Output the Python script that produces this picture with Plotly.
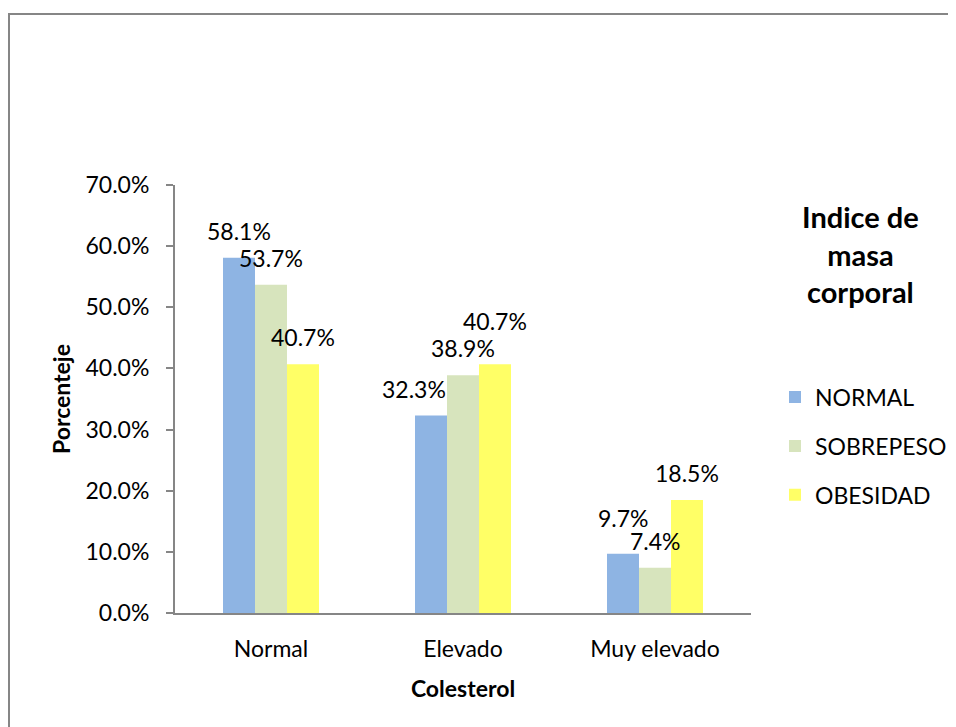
import plotly.graph_objects as go

# ---- data ----
categories = ["Normal", "Elevado", "Muy elevado"]
series_names = ["NORMAL", "SOBREPESO", "OBESIDAD"]
normal_vals = [58.1, 32.3, 9.7]
sobrepeso_vals = [53.7, 38.9, 7.4]
obesidad_vals = [40.7, 40.7, 18.5]
y_ticks = [0, 10, 20, 30, 40, 50, 60, 70]
y_tick_labels = [f"{t:.1f}%" for t in y_ticks]

series_values = [normal_vals, sobrepeso_vals, obesidad_vals]
colors = ["#8EB4E3", "#D7E4BD", "#FFFF66"]

FONT = "Lato, Carlito, Calibri, sans-serif"
GRAY = "#868686"

# figure is drawn inside the page body (8px default margin)
W, H = 948, 719
ML, MT = 167, 177
PW, PH = 576, 428

fig = go.Figure()
for k, (name, vals) in enumerate(zip(series_names, series_values)):
    fig.add_trace(go.Bar(
        x=categories, y=vals, name=name,
        marker=dict(color=colors[k], line=dict(width=0)),
        legendgroup=name,
    ))

# data labels (manual nudges replicate the original label placement)
nudge = {(1, 0): (-17, 0), (1, 2): (0, 16), (2, 0): (0, 9)}
annotations = []
nser = len(series_names)
bar_w = 0.5 / nser
for k, vals in enumerate(series_values):
    for i, v in enumerate(vals):
        dx, dy = nudge.get((i, k), (0, 0))
        annotations.append(dict(
            x=i + (k - (nser - 1) / 2) * bar_w, y=v, xref="x", yref="y",
            text=f"{v:.1f}%", showarrow=False,
            yanchor="middle", xanchor="center",
            yshift=27 + dy, xshift=dx,
            font=dict(family=FONT, size=23, color="black"),
        ))

# legend title
annotations.append(dict(
    x=1.19, y=0.972, xref="paper", yref="paper",
    text="<b>Indice de<br>masa<br>corporal</b>", showarrow=False,
    xanchor="center", yanchor="top", align="center",
    font=dict(family=FONT, size=29, color="black"),
))

fig.update_layout(
    width=W, height=H, autosize=False,
    margin=dict(l=ML, r=W - ML - PW, t=MT, b=H - MT - PH, autoexpand=False),
    paper_bgcolor="white", plot_bgcolor="white",
    barmode="group", bargap=0.5, bargroupgap=0,
    font=dict(family=FONT, size=23, color="black"),
    showlegend=True,
    legend=dict(
        xref="container", yref="container",
        x=767 / W, xanchor="left", y=1 - 367.6 / H, yanchor="top",
        font=dict(family=FONT, size=23, color="black"),
        tracegroupgap=16, traceorder="grouped",
        bgcolor="rgba(0,0,0,0)",
    ),
    annotations=annotations,
    shapes=[dict(
        type="rect", xref="paper", yref="paper",
        x0=(1 - ML) / PW, x1=(990 - ML) / PW,
        y0=(MT + PH - 760) / PH, y1=(MT + PH - 6) / PH,
        line=dict(color=GRAY, width=2), fillcolor="rgba(0,0,0,0)",
        layer="below",
    )],
)

fig.update_xaxes(
    type="category", categoryorder="array", categoryarray=categories,
    range=[-0.5, 2.5], showline=True, linecolor=GRAY, linewidth=2,
    ticks="", showgrid=False, zeroline=False,
    ticklabelstandoff=14,
    tickfont=dict(family=FONT, size=23, color="black"),
    title=dict(text="<b>Colesterol</b>", standoff=20,
               font=dict(family=FONT, size=23, color="black")),
)
fig.update_yaxes(
    range=[0, 70], tickvals=y_ticks, ticktext=y_tick_labels,
    showline=True, linecolor=GRAY, linewidth=2,
    ticks="outside", ticklen=7, tickcolor=GRAY, tickwidth=2,
    showgrid=False, zeroline=False,
    ticklabelstandoff=12,
    tickfont=dict(family=FONT, size=23, color="black"),
    title=dict(text="<b>Porcenteje</b>", standoff=8,
               font=dict(family=FONT, size=23, color="black")),
)

fig.write_html("out.html")
